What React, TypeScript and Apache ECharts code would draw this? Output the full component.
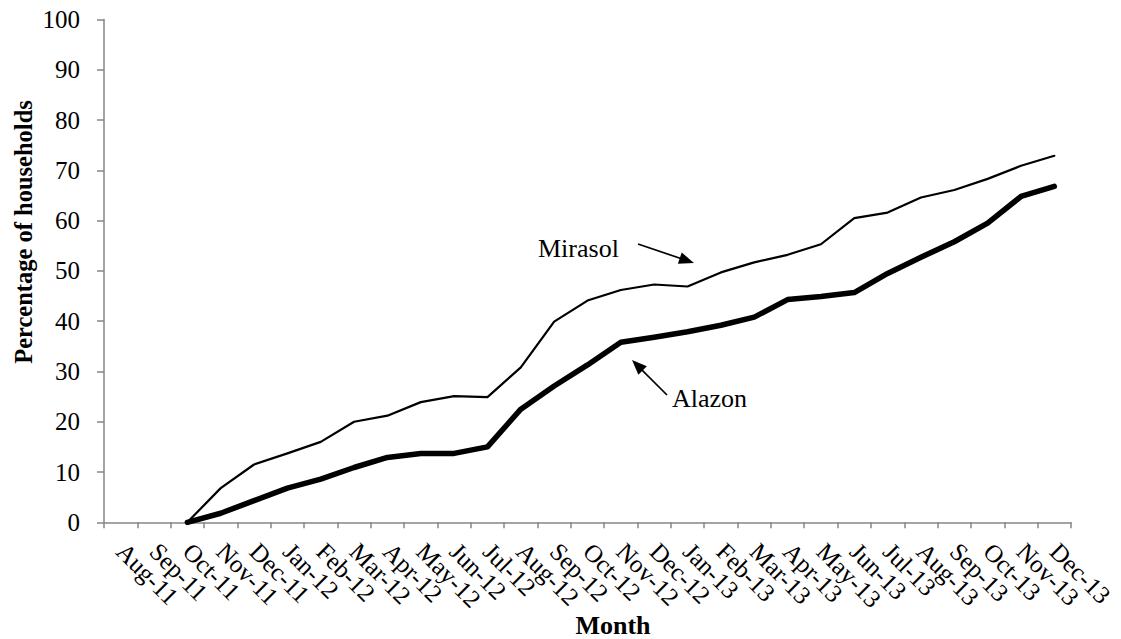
import React, { useEffect, useRef } from "react";
import * as echarts from "echarts";

const months = [
  "Aug-11", "Sep-11", "Oct-11", "Nov-11", "Dec-11",
  "Jan-12", "Feb-12", "Mar-12", "Apr-12", "May-12", "Jun-12", "Jul-12",
  "Aug-12", "Sep-12", "Oct-12", "Nov-12", "Dec-12",
  "Jan-13", "Feb-13", "Mar-13", "Apr-13", "May-13", "Jun-13", "Jul-13",
  "Aug-13", "Sep-13", "Oct-13", "Nov-13", "Dec-13",
];

const mirasol = [
  null, null, 0, 6.8, 11.5,
  13.7, 16.0, 20.0, 21.2, 23.9, 25.1, 24.9,
  30.8, 39.9, 44.1, 46.2, 47.3,
  46.9, 49.7, 51.7, 53.2, 55.3, 60.5, 61.6,
  64.6, 66.1, 68.3, 70.9, 72.9,
];

const alazon = [
  null, null, 0, 1.8, 4.3,
  6.8, 8.6, 10.9, 12.9, 13.7, 13.7, 15.0,
  22.5, 27.1, 31.3, 35.8, 36.8,
  37.9, 39.2, 40.8, 44.3, 44.9, 45.7, 49.5,
  52.7, 55.8, 59.5, 64.8, 66.8,
];

const FONT = "'Liberation Serif', 'Times New Roman', serif";
const AXIS_COLOR = "#868686";

function arrowHead(tip: [number, number], from: [number, number], len: number, half: number) {
  const dx = tip[0] - from[0];
  const dy = tip[1] - from[1];
  const L = Math.sqrt(dx * dx + dy * dy);
  const ux = dx / L, uy = dy / L;
  const bx = tip[0] - ux * len, by = tip[1] - uy * len;
  const nx = -uy, ny = ux;
  return [
    [tip[0], tip[1]],
    [bx + nx * half, by + ny * half],
    [bx - nx * half, by - ny * half],
  ];
}

function shaftEnd(tip: [number, number], from: [number, number], back: number) {
  const dx = tip[0] - from[0];
  const dy = tip[1] - from[1];
  const L = Math.sqrt(dx * dx + dy * dy);
  return [tip[0] - (dx / L) * back, tip[1] - (dy / L) * back];
}

export default function App() {
  const ref = useRef<HTMLDivElement>(null);

  useEffect(() => {
    if (!ref.current) return;
    const chart = echarts.init(ref.current, undefined, { renderer: "svg" });

    const mFrom: [number, number] = [638, 244];
    const mTip: [number, number] = [694, 263];
    const aFrom: [number, number] = [667, 395];
    const aTip: [number, number] = [632, 360];
    const mEnd = shaftEnd(mTip, mFrom, 10);
    const aEnd = shaftEnd(aTip, aFrom, 10);

    chart.setOption({
      animation: false,
      backgroundColor: "#ffffff",
      grid: { left: 104, right: 50, top: 19.5, bottom: 116.7, containLabel: false },
      xAxis: {
        type: "category",
        data: months,
        boundaryGap: true,
        axisLine: { show: true, lineStyle: { color: AXIS_COLOR, width: 1.5 } },
        axisTick: { show: true, interval: 0, length: 6, lineStyle: { color: AXIS_COLOR, width: 1.5 } },
        axisLabel: {
          interval: 0,
          rotate: -45,
          margin: 25,
          color: "#000",
          fontFamily: FONT,
          fontSize: 25,
        },
        splitLine: { show: false },
      },
      yAxis: {
        type: "value",
        min: 0,
        max: 100,
        interval: 10,
        axisLine: { show: true, lineStyle: { color: AXIS_COLOR, width: 1.5 } },
        axisTick: { show: true, length: 7, lineStyle: { color: AXIS_COLOR, width: 1.5 } },
        axisLabel: { color: "#000", fontFamily: FONT, fontSize: 25, margin: 24 },
        splitLine: { show: false },
      },
      series: [
        {
          name: "Mirasol",
          type: "line",
          data: mirasol,
          showSymbol: false,
          symbol: "none",
          lineStyle: { color: "#000", width: 2.2, cap: "round", join: "round" },
        },
        {
          name: "Alazon",
          type: "line",
          data: alazon,
          showSymbol: false,
          symbol: "none",
          lineStyle: { color: "#000", width: 5.5, cap: "round", join: "round" },
        },
      ],
      graphic: [
        {
          type: "text",
          x: 23,
          y: 232,
          rotation: Math.PI / 2,
          style: {
            text: "Percentage of households",
            fill: "#000",
            font: `bold 24.5px ${FONT}`,
            textAlign: "center",
            textVerticalAlign: "middle",
          },
        },
        {
          type: "text",
          x: 613,
          y: 625,
          style: {
            text: "Month",
            fill: "#000",
            font: `bold 26px ${FONT}`,
            textAlign: "center",
            textVerticalAlign: "middle",
          },
        },
        {
          type: "text",
          x: 538,
          y: 248,
          style: {
            text: "Mirasol",
            fill: "#000",
            font: `26px ${FONT}`,
            textAlign: "left",
            textVerticalAlign: "middle",
          },
        },
        {
          type: "text",
          x: 672,
          y: 398,
          style: {
            text: "Alazon",
            fill: "#000",
            font: `26px ${FONT}`,
            textAlign: "left",
            textVerticalAlign: "middle",
          },
        },
        {
          type: "line",
          shape: { x1: mFrom[0], y1: mFrom[1], x2: mEnd[0], y2: mEnd[1] },
          style: { stroke: "#000", lineWidth: 1.7 },
        },
        {
          type: "polygon",
          shape: { points: arrowHead(mTip, mFrom, 15, 6) },
          style: { fill: "#000" },
        },
        {
          type: "line",
          shape: { x1: aFrom[0], y1: aFrom[1], x2: aEnd[0], y2: aEnd[1] },
          style: { stroke: "#000", lineWidth: 1.7 },
        },
        {
          type: "polygon",
          shape: { points: arrowHead(aTip, aFrom, 15, 6) },
          style: { fill: "#000" },
        },
      ],
    });

    return () => chart.dispose();
  }, []);

  return (
    <div
      ref={ref}
      style={{ position: "absolute", left: 0, top: 0, width: 1121, height: 639 }}
    />
  );
}
